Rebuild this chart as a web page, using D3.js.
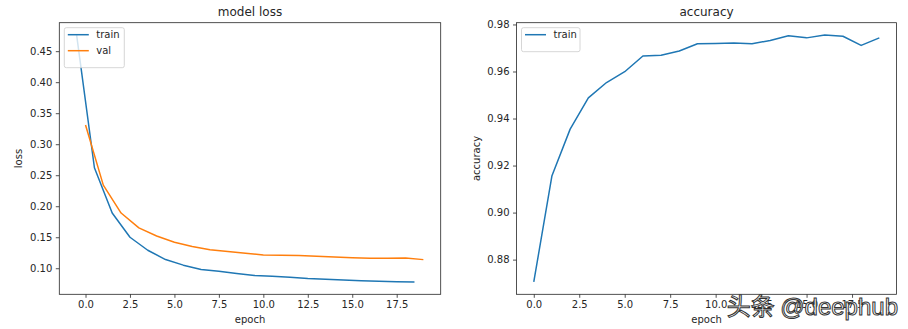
<!DOCTYPE html>
<html>
<head>
<meta charset="utf-8">
<script src="https://cdn.jsdelivr.net/npm/d3@7"></script>
<style>
  html, body { margin: 0; padding: 0; background: #fff; }
  svg { display: block; font-family: "DejaVu Sans", sans-serif; }
</style>
</head>
<body>
<svg id="fig" width="908" height="329"></svg>
<script>
// Training history, one value per epoch
const epochs = [0, 1, 2, 3, 4, 5, 6, 7, 8, 9, 10, 11, 12, 13, 14, 15, 16, 17, 18, 19];
// train loss is averaged over the epoch, so it is plotted half an epoch earlier
const trainLossEpochs = epochs.map(e => e - 0.5);
const trainLoss = [0.476, 0.262, 0.189, 0.150, 0.129, 0.114, 0.105, 0.098, 0.095, 0.0915,
                   0.0885, 0.0871, 0.0855, 0.0833, 0.0822, 0.0811, 0.0800, 0.0790, 0.0784, 0.0779];
const valLoss = [0.331, 0.234, 0.189, 0.165, 0.152, 0.142, 0.135, 0.130, 0.127, 0.1241,
                 0.1215, 0.1210, 0.1204, 0.1193, 0.1182, 0.1171, 0.1161, 0.1161, 0.1166, 0.1139];
const trainAcc = [0.8705, 0.9157, 0.9355, 0.9488, 0.9553, 0.9599, 0.9666, 0.9669, 0.9687, 0.9718,
                  0.9719, 0.9721, 0.9718, 0.9732, 0.9752, 0.9743, 0.9755, 0.9750, 0.9711, 0.9743];

const xTicks = [0, 2.5, 5, 7.5, 10, 12.5, 15, 17.5];
const lossTicks = [0.10, 0.15, 0.20, 0.25, 0.30, 0.35, 0.40, 0.45];
const accTicks = [0.88, 0.90, 0.92, 0.94, 0.96, 0.98];

const ink = "#262626";
const blue = "#1f77b4", orange = "#ff7f0e";

const svg = d3.select("#fig");

// data limits padded by 5% on each side
function padded(values) {
  const [lo, hi] = d3.extent(values);
  const m = (hi - lo) * 0.05;
  return [lo - m, hi + m];
}

function panel(opts) {
  const { left, right, top, bottom, xDomain, yDomain, yTickVals, yFmt, title, yLabel, series } = opts;
  const x = d3.scaleLinear().domain(xDomain).range([left, right]);
  const y = d3.scaleLinear().domain(yDomain).range([bottom, top]);
  const g = svg.append("g");

  const clipId = "clip" + Math.round(left);
  svg.append("clipPath").attr("id", clipId)
    .append("rect").attr("x", left).attr("y", top).attr("width", right - left).attr("height", bottom - top);

  const line = d3.line().x(d => x(d[0])).y(d => y(d[1]));
  const lines = g.append("g").attr("clip-path", `url(#${clipId})`);
  series.forEach(s => {
    lines.append("path")
      .attr("d", line(s.xs.map((v, i) => [v, s.ys[i]])))
      .attr("fill", "none").attr("stroke", s.color).attr("stroke-width", 1.5)
      .attr("stroke-linejoin", "round");
  });

  // axes
  const xAxis = g.append("g").attr("transform", `translate(0,${bottom})`)
    .call(d3.axisBottom(x).tickValues(xTicks).tickFormat(d3.format(".1f")).tickSize(3.5).tickPadding(3.5));
  const yAxis = g.append("g").attr("transform", `translate(${left},0)`)
    .call(d3.axisLeft(y).tickValues(yTickVals).tickFormat(d3.format(yFmt)).tickSize(3.5).tickPadding(3.5));
  [xAxis, yAxis].forEach(a => {
    a.select(".domain").remove();
    a.selectAll(".tick line").attr("stroke", ink).attr("stroke-width", 0.8);
    a.selectAll(".tick text").attr("fill", ink).attr("font-size", 10)
      .attr("font-family", "DejaVu Sans, sans-serif");
  });

  // frame
  g.append("rect").attr("x", left).attr("y", top).attr("width", right - left).attr("height", bottom - top)
    .attr("fill", "none").attr("stroke", ink).attr("stroke-width", 0.8);

  g.append("text").attr("x", (left + right) / 2).attr("y", 16).attr("text-anchor", "middle")
    .attr("font-size", 12).attr("fill", ink).text(title);
  g.append("text").attr("x", (left + right) / 2).attr("y", 323).attr("text-anchor", "middle")
    .attr("font-size", 10).attr("fill", ink).text("epoch");
  g.append("text").attr("transform", `translate(${left - 37},${(top + bottom) / 2}) rotate(-90)`)
    .attr("text-anchor", "middle").attr("font-size", 10).attr("fill", ink).text(yLabel);

  // legend, upper left
  const lg = g.append("g").attr("transform", `translate(${left + 5},${top + 5})`);
  const w = opts.legendWidth, h = 8 + series.length * 16;
  lg.append("rect").attr("width", w).attr("height", h).attr("rx", 2)
    .attr("fill", "#fff").attr("fill-opacity", 0.8).attr("stroke", "#cccccc").attr("stroke-width", 0.8);
  series.forEach((s, i) => {
    const cy = 7 + i * 16;
    lg.append("line").attr("x1", 3.5).attr("x2", 24.5).attr("y1", cy).attr("y2", cy)
      .attr("stroke", s.color).attr("stroke-width", 1.5);
    lg.append("text").attr("x", 32).attr("y", cy + 3.6).attr("font-size", 10).attr("fill", ink).text(s.name);
  });
}

const axTop = 22.7, axBottom = 294.3;

panel({
  left: 59.3, right: 440.7, top: axTop, bottom: axBottom,
  xDomain: padded(trainLossEpochs.concat(epochs)),
  yDomain: padded(trainLoss.concat(valLoss)),
  yTickVals: lossTicks, yFmt: ".2f",
  title: "model loss", yLabel: "loss", legendWidth: 60,
  series: [
    { name: "train", xs: trainLossEpochs, ys: trainLoss, color: blue },
    { name: "val", xs: epochs, ys: valLoss, color: orange }
  ]
});

panel({
  left: 516.5, right: 896.6, top: axTop, bottom: axBottom,
  xDomain: padded(epochs),
  yDomain: padded(trainAcc),
  yTickVals: accTicks, yFmt: ".2f",
  title: "accuracy", yLabel: "accuracy", legendWidth: 58.5,
  series: [
    { name: "train", xs: epochs, ys: trainAcc, color: blue }
  ]
});

// site watermark: white glyphs with a dark outline
const wm = svg.append("text").attr("x", 898).attr("y", 315).attr("text-anchor", "end")
  .attr("font-size", 24)
  .attr("fill", "#fff").attr("stroke", "#333").attr("stroke-width", 1);
wm.append("tspan").attr("font-family", "'Noto Sans CJK SC', sans-serif").text("头条 ");
wm.append("tspan").attr("font-family", "'Liberation Sans', Arial, sans-serif").text("@deephub");
</script>
</body>
</html>
